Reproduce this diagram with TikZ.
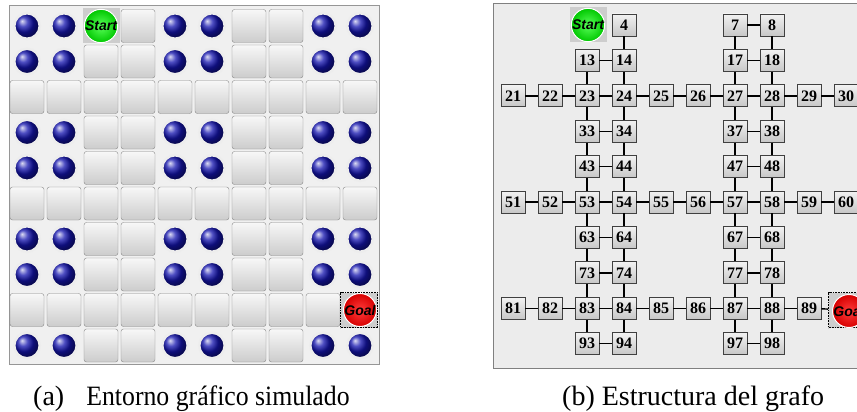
\documentclass[tikz,border=0pt]{standalone}
\usepackage{fontspec}
\setmainfont{Liberation Serif}
\setsansfont{Liberation Sans}

\definecolor{boardbg}{RGB}{240,240,240}
\definecolor{graphbg}{RGB}{236,236,236}
\definecolor{rim}{RGB}{150,150,150}
\definecolor{tileedge}{RGB}{135,135,135}
\definecolor{navy}{RGB}{20,20,175}
\definecolor{limelight}{RGB}{90,255,90}
\definecolor{limedark}{RGB}{0,200,0}
\definecolor{redlight}{RGB}{255,60,60}
\definecolor{reddark}{RGB}{215,0,0}
\definecolor{markbg}{RGB}{205,205,205}

\tikzset{
  panel/.style={draw=rim, line width=1pt},
  tile/.style={draw=tileedge, rounded corners=2.5pt, minimum width=34pt, minimum height=33pt,
    inner sep=0pt, top color=white!97!black, bottom color=white!80!black},
  ball/.style={circle, draw=white!93!black, line width=2.5pt, ball color=navy,
    minimum size=25.5pt, inner sep=0pt},
  markbox/.style={fill=markbg, minimum width=37pt, minimum height=35pt, inner sep=0pt},
  goalbox/.style={markbox, draw=black, densely dotted, line width=0.6pt},
  disc/.style={circle, draw=white, line width=1pt, minimum size=33pt, inner sep=0pt,
    font=\sffamily\bfseries\itshape\fontsize{14}{14}\selectfont},
  startdisc/.style={disc, inner color=limelight, outer color=limedark},
  goaldisc/.style={disc, inner color=redlight, outer color=reddark},
  cellnum/.style={draw=black!75, line width=0.8pt, minimum width=24pt, minimum height=22pt,
    inner sep=0pt, top color=white!95!black, bottom color=white!78!black,
    font=\bfseries\fontsize{16}{16}\selectfont},
  link/.style={line width=1.4pt},
  caption/.style={inner sep=0pt, font=\fontsize{28}{30}\selectfont}
}

\begin{document}
\begin{tikzpicture}[x=1pt,y=-1pt]
	\useasboundingbox (0,0) rectangle (857,412);
	\clip (0,0) rectangle (857,412);

	% the board
	\draw[panel, fill=boardbg] (9,6) rectangle (379,364);
	\foreach \r in {0,1,3,4,6,7,9} {
		\foreach \c in {0,1,4,5,8,9}
			\node[ball] (b\r\c) at ({27+37*\c},{26+35.5*\r}) {};
		\foreach \c in {2,3,6,7}
			\node[tile] (t\r\c) at ({27+37*\c},{26+35.5*\r}) {};
	}
	\foreach \r in {2,5,8}
		\foreach \c in {0,...,9}
			\node[tile] (t\r\c) at ({27+37*\c},{26+35.5*\r}) {};
	\node[markbox] (startA) at (101,26) {};
	\node[startdisc] (startAdisc) at (101,26) {Start};
	\node[goalbox] (goalA) at (359,310) {};
	\node[goaldisc] (goalAdisc) at (360,310) {Goal};

	% the graph
	\draw[panel, draw=black!50, fill=graphbg] (493,4) rectangle (880,368);
	\node[markbox] (startB) at (588,25) {};
	\node[startdisc] (startBdisc) at (588,25) {Start};
	\foreach \c in {4,7,8}
		\node[cellnum] (n\c) at ({476+37*\c},25) {\c};
	\foreach \r in {1,3,4,6,7,9}
		\foreach \c in {3,4,7,8} {
			\pgfmathtruncatemacro\lab{10*\r+\c}
			\node[cellnum] (n\lab) at ({476+37*\c},{25+35.4*\r}) {\lab};
		}
	\foreach \r/\last in {2/10,5/10,8/9}
		\foreach \c in {1,...,\last} {
			\pgfmathtruncatemacro\lab{10*\r+\c}
			\node[cellnum] (n\lab) at ({476+37*\c},{25+35.4*\r}) {\lab};
		}
	\node[goalbox] (goalB) at (847,310) {};
	\node[goaldisc] (goalBdisc) at (849,311) {Goal};

	% rungs between the two ladders
	\foreach \a/\b in {7/8,13/14,17/18,33/34,37/38,43/44,47/48,63/64,67/68,73/74,77/78,93/94,97/98}
		\draw[link] (n\a) -- (n\b);
	% long corridors
	\foreach \r/\last in {2/10,5/10,8/9}
		\foreach \c in {2,...,\last} {
			\pgfmathtruncatemacro\b{10*\r+\c}
			\pgfmathtruncatemacro\a{\b-1}
			\draw[link] (n\a) -- (n\b);
		}
	\draw[link] (n89) -- (goalB);
	% ladders
	\foreach \c/\first in {3/1,4/0,7/0,8/0}
		\foreach \r in {\first,...,8} {
			\pgfmathtruncatemacro\a{10*\r+\c}
			\pgfmathtruncatemacro\b{\a+10}
			\draw[link] (n\a) -- (n\b);
		}

	% captions
	\node[caption, anchor=base west] (labA) at (33,405) {(a)};
	\node[caption, anchor=base] (capA) at (218,405) {\scalebox{0.92}[1]{Entorno gráfico simulado}};
	\node[caption, anchor=base west] (labB) at (562,405) {(b)};
	\node[caption, anchor=base] (capB) at (713,405) {Estructura del grafo};
\end{tikzpicture}
\end{document}
